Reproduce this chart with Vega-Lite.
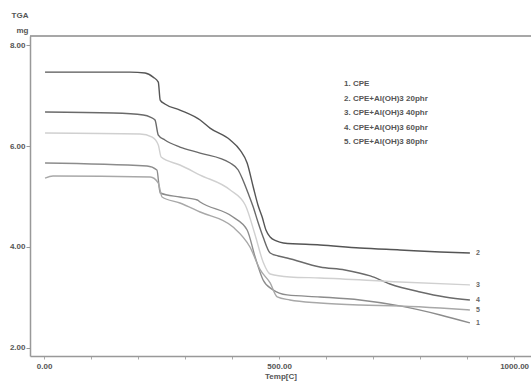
{
  "$schema": "https://vega.github.io/schema/vega-lite/v6.json",
  "width": 501,
  "height": 320,
  "autosize": "none",
  "padding": {"left": 30, "top": 36, "right": 0, "bottom": 27},
  "background": "white",
  "config": {"view": {"stroke": null}, "font": "Liberation Sans"},
  "datasets": {
    "tga": [
      {"s": "2. CPE+Al(OH)3 20phr", "t": 2, "m": 7.465},
      {"s": "2. CPE+Al(OH)3 20phr", "t": 119, "m": 7.465},
      {"s": "2. CPE+Al(OH)3 20phr", "t": 183, "m": 7.465},
      {"s": "2. CPE+Al(OH)3 20phr", "t": 215, "m": 7.446},
      {"s": "2. CPE+Al(OH)3 20phr", "t": 232, "m": 7.366},
      {"s": "2. CPE+Al(OH)3 20phr", "t": 243, "m": 7.267},
      {"s": "2. CPE+Al(OH)3 20phr", "t": 247, "m": 6.911},
      {"s": "2. CPE+Al(OH)3 20phr", "t": 257, "m": 6.832},
      {"s": "2. CPE+Al(OH)3 20phr", "t": 289, "m": 6.713},
      {"s": "2. CPE+Al(OH)3 20phr", "t": 332, "m": 6.515},
      {"s": "2. CPE+Al(OH)3 20phr", "t": 353, "m": 6.356},
      {"s": "2. CPE+Al(OH)3 20phr", "t": 396, "m": 6.119},
      {"s": "2. CPE+Al(OH)3 20phr", "t": 417, "m": 5.921},
      {"s": "2. CPE+Al(OH)3 20phr", "t": 432, "m": 5.663},
      {"s": "2. CPE+Al(OH)3 20phr", "t": 445, "m": 5.188},
      {"s": "2. CPE+Al(OH)3 20phr", "t": 455, "m": 4.832},
      {"s": "2. CPE+Al(OH)3 20phr", "t": 464, "m": 4.594},
      {"s": "2. CPE+Al(OH)3 20phr", "t": 472, "m": 4.337},
      {"s": "2. CPE+Al(OH)3 20phr", "t": 481, "m": 4.198},
      {"s": "2. CPE+Al(OH)3 20phr", "t": 494, "m": 4.119},
      {"s": "2. CPE+Al(OH)3 20phr", "t": 509, "m": 4.079},
      {"s": "2. CPE+Al(OH)3 20phr", "t": 587, "m": 4.04},
      {"s": "2. CPE+Al(OH)3 20phr", "t": 672, "m": 3.98},
      {"s": "2. CPE+Al(OH)3 20phr", "t": 757, "m": 3.941},
      {"s": "2. CPE+Al(OH)3 20phr", "t": 843, "m": 3.901},
      {"s": "2. CPE+Al(OH)3 20phr", "t": 906, "m": 3.881},

      {"s": "4. CPE+Al(OH)3 60phr", "t": 2, "m": 6.673},
      {"s": "4. CPE+Al(OH)3 60phr", "t": 147, "m": 6.653},
      {"s": "4. CPE+Al(OH)3 60phr", "t": 211, "m": 6.614},
      {"s": "4. CPE+Al(OH)3 60phr", "t": 226, "m": 6.574},
      {"s": "4. CPE+Al(OH)3 60phr", "t": 236, "m": 6.515},
      {"s": "4. CPE+Al(OH)3 60phr", "t": 243, "m": 6.218},
      {"s": "4. CPE+Al(OH)3 60phr", "t": 257, "m": 6.119},
      {"s": "4. CPE+Al(OH)3 60phr", "t": 289, "m": 5.98},
      {"s": "4. CPE+Al(OH)3 60phr", "t": 332, "m": 5.861},
      {"s": "4. CPE+Al(OH)3 60phr", "t": 396, "m": 5.663},
      {"s": "4. CPE+Al(OH)3 60phr", "t": 413, "m": 5.525},
      {"s": "4. CPE+Al(OH)3 60phr", "t": 423, "m": 5.327},
      {"s": "4. CPE+Al(OH)3 60phr", "t": 434, "m": 5.069},
      {"s": "4. CPE+Al(OH)3 60phr", "t": 445, "m": 4.792},
      {"s": "4. CPE+Al(OH)3 60phr", "t": 455, "m": 4.495},
      {"s": "4. CPE+Al(OH)3 60phr", "t": 466, "m": 4.198},
      {"s": "4. CPE+Al(OH)3 60phr", "t": 481, "m": 3.881},
      {"s": "4. CPE+Al(OH)3 60phr", "t": 498, "m": 3.822},
      {"s": "4. CPE+Al(OH)3 60phr", "t": 517, "m": 3.782},
      {"s": "4. CPE+Al(OH)3 60phr", "t": 587, "m": 3.604},
      {"s": "4. CPE+Al(OH)3 60phr", "t": 640, "m": 3.545},
      {"s": "4. CPE+Al(OH)3 60phr", "t": 694, "m": 3.426},
      {"s": "4. CPE+Al(OH)3 60phr", "t": 736, "m": 3.267},
      {"s": "4. CPE+Al(OH)3 60phr", "t": 800, "m": 3.109},
      {"s": "4. CPE+Al(OH)3 60phr", "t": 853, "m": 3.01},
      {"s": "4. CPE+Al(OH)3 60phr", "t": 906, "m": 2.95},

      {"s": "3. CPE+Al(OH)3 40phr", "t": 2, "m": 6.257},
      {"s": "3. CPE+Al(OH)3 40phr", "t": 204, "m": 6.238},
      {"s": "3. CPE+Al(OH)3 40phr", "t": 230, "m": 6.178},
      {"s": "3. CPE+Al(OH)3 40phr", "t": 243, "m": 6.02},
      {"s": "3. CPE+Al(OH)3 40phr", "t": 249, "m": 5.782},
      {"s": "3. CPE+Al(OH)3 40phr", "t": 289, "m": 5.624},
      {"s": "3. CPE+Al(OH)3 40phr", "t": 332, "m": 5.426},
      {"s": "3. CPE+Al(OH)3 40phr", "t": 396, "m": 5.129},
      {"s": "3. CPE+Al(OH)3 40phr", "t": 428, "m": 4.832},
      {"s": "3. CPE+Al(OH)3 40phr", "t": 449, "m": 4.238},
      {"s": "3. CPE+Al(OH)3 40phr", "t": 466, "m": 3.703},
      {"s": "3. CPE+Al(OH)3 40phr", "t": 481, "m": 3.465},
      {"s": "3. CPE+Al(OH)3 40phr", "t": 523, "m": 3.406},
      {"s": "3. CPE+Al(OH)3 40phr", "t": 587, "m": 3.386},
      {"s": "3. CPE+Al(OH)3 40phr", "t": 757, "m": 3.307},
      {"s": "3. CPE+Al(OH)3 40phr", "t": 906, "m": 3.248},

      {"s": "1. CPE", "t": 2, "m": 5.663},
      {"s": "1. CPE", "t": 219, "m": 5.604},
      {"s": "1. CPE", "t": 240, "m": 5.525},
      {"s": "1. CPE", "t": 247, "m": 5.069},
      {"s": "1. CPE", "t": 289, "m": 4.99},
      {"s": "1. CPE", "t": 326, "m": 4.931},
      {"s": "1. CPE", "t": 332, "m": 4.891},
      {"s": "1. CPE", "t": 402, "m": 4.594},
      {"s": "1. CPE", "t": 432, "m": 4.337},
      {"s": "1. CPE", "t": 449, "m": 3.802},
      {"s": "1. CPE", "t": 466, "m": 3.347},
      {"s": "1. CPE", "t": 487, "m": 3.149},
      {"s": "1. CPE", "t": 517, "m": 3.05},
      {"s": "1. CPE", "t": 587, "m": 3.01},
      {"s": "1. CPE", "t": 672, "m": 2.95},
      {"s": "1. CPE", "t": 757, "m": 2.832},
      {"s": "1. CPE", "t": 843, "m": 2.653},
      {"s": "1. CPE", "t": 906, "m": 2.495},

      {"s": "5. CPE+Al(OH)3 80phr", "t": 2, "m": 5.366},
      {"s": "5. CPE+Al(OH)3 80phr", "t": 19, "m": 5.406},
      {"s": "5. CPE+Al(OH)3 80phr", "t": 226, "m": 5.386},
      {"s": "5. CPE+Al(OH)3 80phr", "t": 243, "m": 5.267},
      {"s": "5. CPE+Al(OH)3 80phr", "t": 251, "m": 4.99},
      {"s": "5. CPE+Al(OH)3 80phr", "t": 289, "m": 4.871},
      {"s": "5. CPE+Al(OH)3 80phr", "t": 332, "m": 4.693},
      {"s": "5. CPE+Al(OH)3 80phr", "t": 402, "m": 4.396},
      {"s": "5. CPE+Al(OH)3 80phr", "t": 438, "m": 4.0},
      {"s": "5. CPE+Al(OH)3 80phr", "t": 460, "m": 3.545},
      {"s": "5. CPE+Al(OH)3 80phr", "t": 481, "m": 3.287},
      {"s": "5. CPE+Al(OH)3 80phr", "t": 496, "m": 3.01},
      {"s": "5. CPE+Al(OH)3 80phr", "t": 523, "m": 2.95},
      {"s": "5. CPE+Al(OH)3 80phr", "t": 587, "m": 2.891},
      {"s": "5. CPE+Al(OH)3 80phr", "t": 672, "m": 2.851},
      {"s": "5. CPE+Al(OH)3 80phr", "t": 757, "m": 2.832},
      {"s": "5. CPE+Al(OH)3 80phr", "t": 843, "m": 2.792},
      {"s": "5. CPE+Al(OH)3 80phr", "t": 906, "m": 2.752}
    ]
  },
  "layer": [
    {
      "data": {"values": [{}]},
      "mark": {"type": "rule", "color": "#8a8a8a", "strokeWidth": 1.5},
      "encoding": {"y": {"datum": 8.18, "type": "quantitative"}}
    },
    {
      "data": {"name": "tga"},
      "mark": {"type": "line", "strokeWidth": 1.4, "interpolate": "monotone"},
      "encoding": {
        "x": {
          "field": "t",
          "type": "quantitative",
          "scale": {"domain": [-30, 1036], "nice": false, "zero": false},
          "axis": {
            "values": [0, 100, 200, 300, 400, 500, 600, 700, 800, 900, 1000],
            "labelExpr": "datum.value % 500 === 0 ? format(datum.value, '.2f') : ''",
            "labelOverlap": false,
            "labelFlush": false,
            "labelFontSize": 8,
            "labelFontWeight": "bold",
            "labelColor": "#555555",
            "labelPadding": 3,
            "title": "Temp[C]",
            "titleFontSize": 8,
            "titleFontWeight": "bold",
            "titleColor": "#555555",
            "titlePadding": 2,
            "domainColor": "#999999",
            "domainWidth": 1.5,
            "tickColor": "#aaaaaa",
            "tickSize": 3,
            "grid": false
          }
        },
        "y": {
          "field": "m",
          "type": "quantitative",
          "scale": {"domain": [1.84, 8.18], "nice": false, "zero": false},
          "axis": {
            "values": [2, 4, 6, 8],
            "format": ".2f",
            "labelFontSize": 8,
            "labelFontWeight": "bold",
            "labelColor": "#555555",
            "labelPadding": 1,
            "title": ["TGA", "mg"],
            "titleAngle": 0,
            "titleAlign": "right",
            "titleBaseline": "top",
            "titleX": -2,
            "titleY": -25,
            "titleLineHeight": 15,
            "titleFontSize": 8,
            "titleFontWeight": "bold",
            "titleColor": "#555555",
            "domainColor": "#999999",
            "domainWidth": 1.5,
            "tickColor": "#999999",
            "tickSize": 4,
            "grid": false
          }
        },
        "color": {
          "field": "s",
          "type": "nominal",
          "scale": {
            "domain": ["1. CPE", "2. CPE+Al(OH)3 20phr", "3. CPE+Al(OH)3 40phr", "4. CPE+Al(OH)3 60phr", "5. CPE+Al(OH)3 80phr"],
            "range": ["#8c8c8c", "#555555", "#d0d0d0", "#6a6a6a", "#a8a8a8"]
          },
          "legend": {
            "orient": "none",
            "legendX": 306,
            "legendY": 44,
            "title": null,
            "symbolStrokeWidth": 0,
            "symbolSize": 0,
            "symbolOpacity": 0,
            "labelOffset": 0,
            "labelFontSize": 8,
            "labelFontWeight": "bold",
            "labelColor": "#555555",
            "rowPadding": 6.5
          }
        }
      }
    },
    {
      "data": {"name": "tga"},
      "transform": [
        {"filter": "datum.t > 900"},
        {"calculate": "substring(datum.s, 0, 1)", "as": "n"}
      ],
      "mark": {"type": "text", "dx": 8, "align": "center", "baseline": "middle", "fontSize": 7, "fontWeight": "bold", "color": "#666666"},
      "encoding": {
        "x": {"field": "t", "type": "quantitative"},
        "y": {"field": "m", "type": "quantitative"},
        "text": {"field": "n"}
      }
    }
  ]
}
